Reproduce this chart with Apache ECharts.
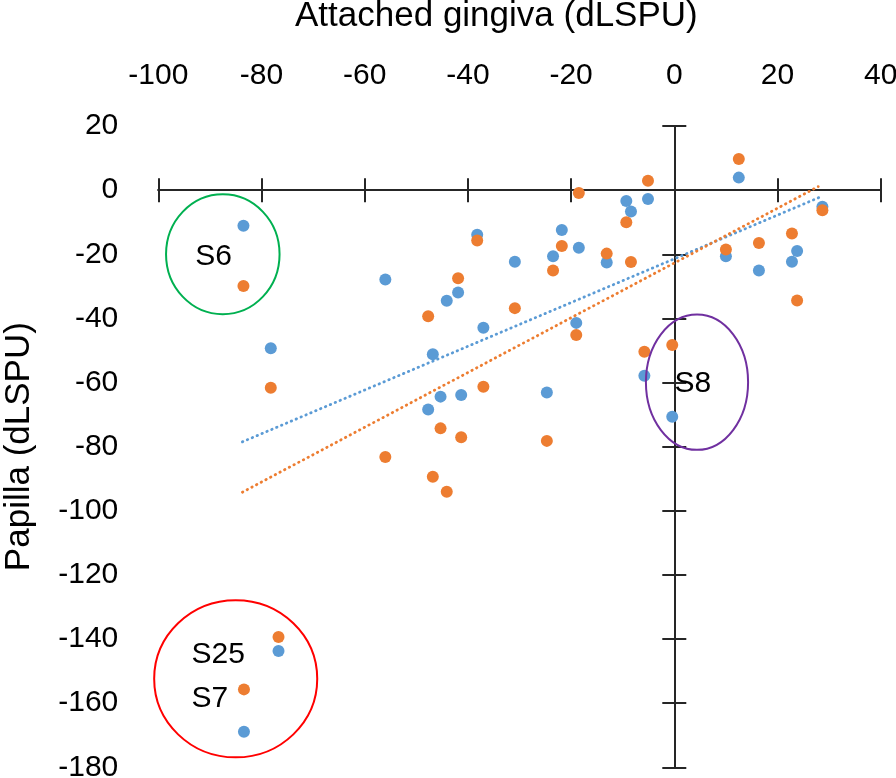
<!DOCTYPE html>
<html><head><meta charset="utf-8">
<script src="https://cdn.jsdelivr.net/npm/echarts@6/dist/echarts.min.js"></script>
<style>html,body{margin:0;padding:0;background:#fff}#c{width:896px;height:778px}</style>
</head><body><div id="c"></div>
<script>
// ---- data ----
const subjectX = [-83.5, -78.2, -38.2, -30.9, -56.0, -41.9, -44.1, -37.0, -5.1, -9.3, -8.4, -21.8, -18.5, -23.5, -13.1, -19.0, 12.5, 28.7, 10.0, 23.8, 22.8, 16.4, -46.8, -24.7, -45.3, -41.3, -47.7, -5.8, -0.4, -76.7, -83.4];
const blueY   = [-11.1, -49.3, -13.9, -22.3, -27.9, -31.9, -34.5, -42.9, -2.8, -3.4, -6.7, -12.4, -18.0, -20.6, -22.6, -41.4, 3.9, -5.2, -20.6, -19.0, -22.3, -25.1, -51.2, -63.1, -64.4, -63.9, -68.4, -57.9, -70.7, -143.7, -168.9];
const orangeY = [-29.9, -61.6, -15.7, -36.8, -83.2, -27.5, -94.1, -61.3, 2.9, -10.0, -22.4, -17.4, -0.9, -25.1, -19.8, -45.2, 9.7, -6.3, -18.5, -34.4, -13.5, -16.5, -89.4, -78.2, -74.3, -77.1, -39.3, -50.4, -48.3, -139.4, -155.7];
const blueTrendX = [-83.7, 28.2];
const blueTrendY = [-78.5, -2.2];
const orangeTrendX = [-83.7, 27.9];
const orangeTrendY = [-94.2, 1.1];
const ellipseCX = [-87.5, 4.4, -85.0];
const ellipseCY = [-20.0, -59.9, -152.4];
const ellipseRX = [11.0, 9.9, 15.8];
const ellipseRY = [18.7, 21.1, 24.5];
const labelText = ['S6', 'S8', 'S25', 'S7'];
const labelX = [-89.3, 3.6, -88.4, -90.0];
const labelY = [-20.9, -60.3, -145.0, -158.5];
const xMin = -100, xMax = 40, xStep = 20;
const yMin = -180, yMax = 20, yStep = 20;
const xTitle = 'Attached gingiva (dLSPU)';
const yTitle = 'Papilla (dLSPU)';

// ---- styling ----
const FONT = 'Liberation Sans';
const BLUE = '#5B9BD5', ORANGE = '#ED7D31';
const ellipseColors = ['#00B050', '#7030A0', '#FF0000'];
const AX = '#262626';

const chart = echarts.init(document.getElementById('c'), null, {renderer: 'canvas'});

function lineAxis(dim, inside) {
  return {
    type: 'value', min: dim === 'x' ? xMin : yMin, max: dim === 'x' ? xMax : yMax,
    interval: dim === 'x' ? xStep : yStep,
    position: dim === 'x' ? 'bottom' : 'left',
    axisLine: {show: true, onZero: true, onZeroAxisIndex: 0, lineStyle: {color: AX, width: 2}},
    axisTick: {show: true, inside: inside, length: 12, lineStyle: {color: AX, width: 2}},
    axisLabel: {show: false}, splitLine: {show: false}
  };
}

const option = {
  animation: false,
  backgroundColor: '#fff',
  textStyle: {fontFamily: FONT},
  title: {
    text: xTitle, left: 295, top: -1, padding: 0,
    textStyle: {fontFamily: FONT, fontSize: 35, fontWeight: 'normal', color: '#000'}
  },
  grid: {left: 158.3, right: 15.3, top: 126, bottom: 10.7, containLabel: false, outerBoundsMode: 'none'},
  xAxis: [
    {
      type: 'value', min: xMin, max: xMax, interval: xStep, position: 'top',
      axisLine: {show: false, onZero: false}, axisTick: {show: false},
      axisLabel: {show: true, fontFamily: FONT, fontSize: 30, color: '#000', margin: 35},
      splitLine: {show: false}
    },
    lineAxis('x', true),
    lineAxis('x', false)
  ],
  yAxis: [
    {
      type: 'value', min: yMin, max: yMax, interval: yStep, position: 'left',
      axisLine: {show: false, onZero: false}, axisTick: {show: false},
      axisLabel: {show: true, fontFamily: FONT, fontSize: 30, color: '#000', margin: 40},
      splitLine: {show: false},
      name: yTitle, nameLocation: 'middle', nameRotate: 90, nameGap: 121,
      nameTextStyle: {fontFamily: FONT, fontSize: 35, color: '#000'}
    },
    lineAxis('y', true),
    lineAxis('y', false)
  ],
  series: [
    {
      type: 'scatter', name: 'blue', symbol: 'circle', symbolSize: 12,
      itemStyle: {color: BLUE, opacity: 1},
      data: subjectX.map((x, i) => [x, blueY[i]]), z: 3
    },
    {
      type: 'scatter', name: 'orange', symbol: 'circle', symbolSize: 12,
      itemStyle: {color: ORANGE, opacity: 1},
      data: subjectX.map((x, i) => [x, orangeY[i]]), z: 3
    },
    {
      type: 'line', showSymbol: false, symbol: 'none',
      lineStyle: {color: BLUE, width: 2.8, type: [0.5, 4.8], cap: 'round'},
      data: blueTrendX.map((x, i) => [x, blueTrendY[i]]), z: 4
    },
    {
      type: 'line', showSymbol: false, symbol: 'none',
      lineStyle: {color: ORANGE, width: 2.8, type: [0.5, 4.8], cap: 'round'},
      data: orangeTrendX.map((x, i) => [x, orangeTrendY[i]]), z: 4
    },
    {
      type: 'custom',
      renderItem: function (params, api) {
        const c = api.coord([api.value(0), api.value(1)]);
        const s = api.size([api.value(2), api.value(3)]);
        return {
          type: 'ellipse',
          shape: {cx: c[0], cy: c[1], rx: s[0], ry: s[1]},
          style: {fill: 'none', stroke: ellipseColors[params.dataIndex], lineWidth: 2}
        };
      },
      data: ellipseCX.map((x, i) => [x, ellipseCY[i], ellipseRX[i], ellipseRY[i]]),
      z: 5, silent: true
    },
    {
      type: 'scatter', symbolSize: 0, silent: true,
      label: {
        show: true, position: 'inside', formatter: p => p.data[2],
        fontFamily: FONT, fontSize: 30, color: '#000', opacity: 1
      },
      data: labelX.map((x, i) => [x, labelY[i], labelText[i]]), z: 6
    }
  ]
};
chart.setOption(option);
</script>
</body></html>
